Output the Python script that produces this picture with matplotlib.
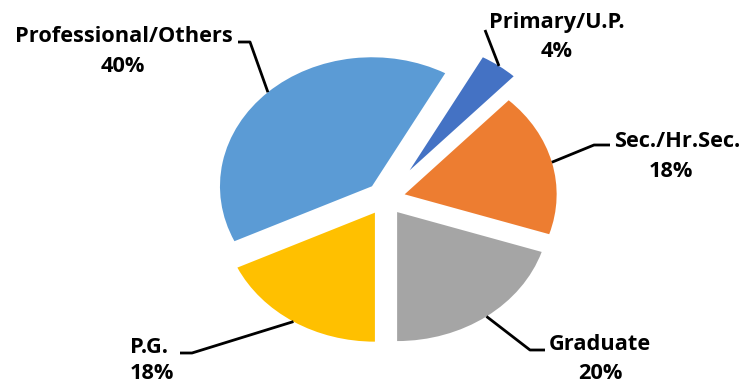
import matplotlib
matplotlib.use('Agg')
import matplotlib.pyplot as plt
import numpy as np

categories = ['Primary/U.P.', 'Sec./Hr.Sec.', 'Graduate', 'P.G.', 'Professional/Others']
shares = [4, 18, 20, 18, 40]
pct_labels = ['4%', '18%', '20%', '18%', '40%']
colors = ['#4472C4', '#ED7D31', '#A5A5A5', '#FFC000', '#5B9BD5']
explode = [0.27, 0.13, 0.13, 0.13, 0.13]

W, H = 746, 385
fig = plt.figure(figsize=(W / 100, H / 100), dpi=100)
ax = fig.add_axes([0, 0, 1, 1])
wedges, _ = ax.pie(shares, colors=colors, explode=explode, startangle=61.2,
                   counterclock=False, radius=1.0, wedgeprops=dict(linewidth=0))
ax.set_aspect('auto')
cx, cy, sx, sy = 385.5, 198.5, 152.0, 129.0
ax.set_xlim(-cx / sx, (W - cx) / sx)
ax.set_ylim(-(H - cy) / sy, cy / sy)
ax.axis('off')


def d(px, py):
    """pixel (from top-left) -> data"""
    return (px - cx) / sx, (cy - py) / sy


# label layout in pixels: (name x, name baseline, pct x, pct baseline, ha, leader path pixels)
layout = {
    'Primary/U.P.': (557, 28, 557, 57, 'center', [(485, 30)]),
    'Sec./Hr.Sec.': (677, 147, 671, 177, 'center', [(610, 145), (594, 145)]),
    'Graduate': (600, 350, 600, 379, 'center', [(545, 350), (530, 350)]),
    'P.G.': (130, 353, 130, 379, 'left', [(180, 353), (192, 353)]),
    'Professional/Others': (124, 42, 123, 72, 'center', [(238, 42), (250, 42)]),
}

font = dict(family=['Open Sans', 'DejaVu Sans'], fontweight='bold', fontsize=15.7, color='black')
for w, name, pct in zip(wedges, categories, pct_labels):
    nx, ny, qx, qy, ha, path = layout[name]
    ax.text(*d(nx, ny), name, ha=ha, va='baseline', **font)
    ax.text(*d(qx, qy), pct, ha=ha, va='baseline', **font)
    mid = np.deg2rad((w.theta1 + w.theta2) / 2)
    ax_, ay_ = w.center[0] + w.r * np.cos(mid), w.center[1] + w.r * np.sin(mid)
    pts = [d(*p) for p in path] + [(ax_, ay_)]
    xs, ys = zip(*pts)
    ax.plot(xs, ys, color='black', lw=2.0, solid_capstyle='butt')

fig.savefig('out.png', dpi=100)
